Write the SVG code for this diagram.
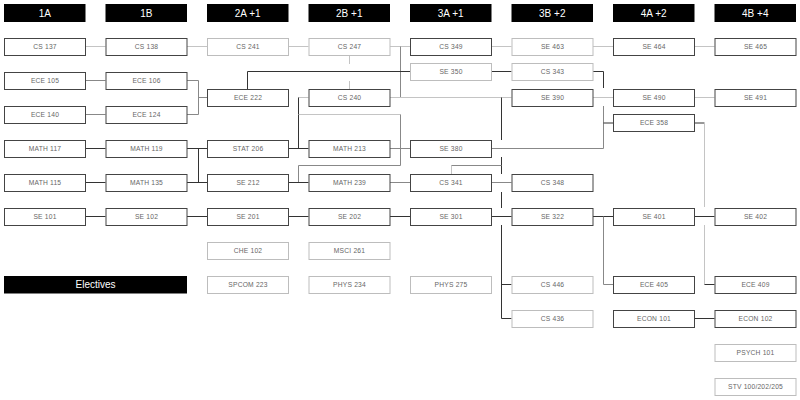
<svg xmlns="http://www.w3.org/2000/svg" width="800" height="400" viewBox="0 0 800 400">
<style>
  .hd rect { fill: #000; }
  .hd text { fill: #fff; font: 10px "Liberation Sans", Arial, sans-serif; text-anchor: middle; }
  .n rect { fill: #fff; stroke: #444; stroke-width: 1; }
  .n.l rect { stroke: #bdbdbd; }
  .n text { fill: #666; font: 6.7px "Liberation Sans", Arial, sans-serif; text-anchor: middle; letter-spacing: 0.2px; }
  .c path { fill: none; stroke-width: 1; }
  .lt { stroke: #c4c4c4; }
  .md { stroke: #888; }
  .dk { stroke: #333; }
</style>
<rect width="800" height="400" fill="#fff"/>

<!-- term headers -->
<g id="headers" class="hd">
  <rect x="4" y="4" width="81.5" height="18"/><text x="44.75" y="16.6">1A</text>
  <rect x="105.5" y="4" width="81.5" height="18"/><text x="146.25" y="16.6">1B</text>
  <rect x="207" y="4" width="81.5" height="18"/><text x="247.75" y="16.6">2A +1</text>
  <rect x="308.5" y="4" width="81.5" height="18"/><text x="349.25" y="16.6">2B +1</text>
  <rect x="410" y="4" width="81.5" height="18"/><text x="450.75" y="16.6">3A +1</text>
  <rect x="511.5" y="4" width="81.5" height="18"/><text x="552.25" y="16.6">3B +2</text>
  <rect x="613" y="4" width="81.5" height="18"/><text x="653.75" y="16.6">4A +2</text>
  <rect x="714.5" y="4" width="81.5" height="18"/><text x="755.25" y="16.6">4B +4</text>
</g>

<!-- prerequisite connectors -->
<g id="connectors" class="c">
  <!-- CS stream, top row -->
  <path class="lt" d="M85.5 46.5H105.5M187 46.5H207M288.5 46.5H308.5M390 46.5H410M491.5 46.5H511.5M593 46.5H613M694.5 46.5H714.5"/>
  <path class="md" d="M400.5 46.5V97.5"/>
  <path class="lt" d="M349.5 55.5V64M349.5 81V89"/>
  <!-- ECE 222 -> SE 350 -->
  <path class="dk" d="M247.5 89V71.5H410"/>
  <!-- ECE 1xx -->
  <path class="md" d="M85.5 80.5H105.5M85.5 114.5H105.5M187 80.5H198.5V114.5H187M198.5 97.5H207"/>
  <!-- CS 240 -->
  <path class="lt" d="M390 97.5H511.5M298.5 97.5H308.5"/>
  <path class="dk" d="M298.5 97.5V148.5"/>
  <path class="lt" d="M298.5 114.5H400.5"/>
  <path class="md" d="M400.5 114.5V165.5H298.5V182.5"/>
  <!-- MATH -->
  <path class="dk" d="M85.5 148.5H105.5M85.5 182.5H105.5M187 148.5H207M187 182.5H207M198.5 148.5V182.5M288.5 148.5H308.5M288.5 182.5H308.5"/>
  <path class="md" d="M390 148.5H410M390 182.5H410"/>
  <!-- SE seminar chain -->
  <path class="dk" d="M85.5 216.5H105.5M187 216.5H207M288.5 216.5H308.5M390 216.5H410M491.5 216.5H511.5M593 216.5H613M694.5 216.5H714.5"/>
  <!-- SE 350 / CS 343 / SE 380 -> ECE 358 -->
  <path class="dk" d="M491.5 71.5H511.5M593 71.5H603.5V88"/>
  <path class="md" d="M603.5 106V148.5H491.5"/>
  <path class="dk" d="M603.5 123H613"/>
  <path class="lt" d="M593 97.5H613M694.5 97.5H714.5"/>
  <!-- ECE 358 -> ECE 409 -->
  <path class="dk" d="M694.5 123H704.5"/>
  <path class="lt" d="M704.5 123V207M704.5 225V284.5"/>
  <path class="dk" d="M704.5 284.5H714.5"/>
  <!-- trunk to CS 4xx -->
  <path class="dk" d="M501.5 97.5V140M501.5 157V174M501.5 192V208M501.5 225V318.5H511.5M501.5 284.5H511.5"/>
  <path class="lt" d="M451.5 174V165.5"/>
  <path class="md" d="M451.5 165.5H501.5M491.5 182.5H511.5"/>
  <!-- SE 322 -> ECE 405 -->
  <path class="md" d="M603.5 216.5V284.5H613"/>
  <path class="dk" d="M694.5 318.5H714.5"/>
</g>

<!-- courses -->
<g id="cs137" class="n"><rect x="4.5" y="38.5" width="81" height="17"/><text x="45" y="49.4">CS 137</text></g>
<g id="cs138" class="n"><rect x="106" y="38.5" width="81" height="17"/><text x="146.5" y="49.4">CS 138</text></g>
<g id="cs241" class="n l"><rect x="207.5" y="38.5" width="81" height="17"/><text x="248" y="49.4">CS 241</text></g>
<g id="cs247" class="n l"><rect x="309" y="38.5" width="81" height="17"/><text x="349.5" y="49.4">CS 247</text></g>
<g id="cs349" class="n"><rect x="410.5" y="38.5" width="81" height="17"/><text x="451" y="49.4">CS 349</text></g>
<g id="se463" class="n l"><rect x="512" y="38.5" width="81" height="17"/><text x="552.5" y="49.4">SE 463</text></g>
<g id="se464" class="n"><rect x="613.5" y="38.5" width="81" height="17"/><text x="654" y="49.4">SE 464</text></g>
<g id="se465" class="n"><rect x="715" y="38.5" width="81" height="17"/><text x="755.5" y="49.4">SE 465</text></g>

<g id="se350" class="n l"><rect x="410.5" y="63.5" width="81" height="17"/><text x="451" y="74.4">SE 350</text></g>
<g id="cs343" class="n l"><rect x="512" y="63.5" width="81" height="17"/><text x="552.5" y="74.4">CS 343</text></g>

<g id="ece105" class="n"><rect x="4.5" y="72.5" width="81" height="17"/><text x="45" y="83.4">ECE 105</text></g>
<g id="ece106" class="n"><rect x="106" y="72.5" width="81" height="17"/><text x="146.5" y="83.4">ECE 106</text></g>

<g id="ece222" class="n"><rect x="207.5" y="89.5" width="81" height="17"/><text x="248" y="100.4">ECE 222</text></g>
<g id="cs240" class="n"><rect x="309" y="89.5" width="81" height="17"/><text x="349.5" y="100.4">CS 240</text></g>
<g id="se390" class="n"><rect x="512" y="89.5" width="81" height="17"/><text x="552.5" y="100.4">SE 390</text></g>
<g id="se490" class="n"><rect x="613.5" y="89.5" width="81" height="17"/><text x="654" y="100.4">SE 490</text></g>
<g id="se491" class="n"><rect x="715" y="89.5" width="81" height="17"/><text x="755.5" y="100.4">SE 491</text></g>

<g id="ece140" class="n"><rect x="4.5" y="106.5" width="81" height="17"/><text x="45" y="117.4">ECE 140</text></g>
<g id="ece124" class="n"><rect x="106" y="106.5" width="81" height="17"/><text x="146.5" y="117.4">ECE 124</text></g>
<g id="ece358" class="n"><rect x="613.5" y="114.5" width="81" height="17"/><text x="654" y="125.4">ECE 358</text></g>

<g id="math117" class="n"><rect x="4.5" y="140.5" width="81" height="17"/><text x="45" y="151.4">MATH 117</text></g>
<g id="math119" class="n"><rect x="106" y="140.5" width="81" height="17"/><text x="146.5" y="151.4">MATH 119</text></g>
<g id="stat206" class="n"><rect x="207.5" y="140.5" width="81" height="17"/><text x="248" y="151.4">STAT 206</text></g>
<g id="math213" class="n"><rect x="309" y="140.5" width="81" height="17"/><text x="349.5" y="151.4">MATH 213</text></g>
<g id="se380" class="n"><rect x="410.5" y="140.5" width="81" height="17"/><text x="451" y="151.4">SE 380</text></g>

<g id="math115" class="n"><rect x="4.5" y="174.5" width="81" height="17"/><text x="45" y="185.4">MATH 115</text></g>
<g id="math135" class="n"><rect x="106" y="174.5" width="81" height="17"/><text x="146.5" y="185.4">MATH 135</text></g>
<g id="se212" class="n"><rect x="207.5" y="174.5" width="81" height="17"/><text x="248" y="185.4">SE 212</text></g>
<g id="math239" class="n"><rect x="309" y="174.5" width="81" height="17"/><text x="349.5" y="185.4">MATH 239</text></g>
<g id="cs341" class="n"><rect x="410.5" y="174.5" width="81" height="17"/><text x="451" y="185.4">CS 341</text></g>
<g id="cs348" class="n"><rect x="512" y="174.5" width="81" height="17"/><text x="552.5" y="185.4">CS 348</text></g>

<g id="se101" class="n"><rect x="4.5" y="208.5" width="81" height="17"/><text x="45" y="219.4">SE 101</text></g>
<g id="se102" class="n"><rect x="106" y="208.5" width="81" height="17"/><text x="146.5" y="219.4">SE 102</text></g>
<g id="se201" class="n"><rect x="207.5" y="208.5" width="81" height="17"/><text x="248" y="219.4">SE 201</text></g>
<g id="se202" class="n"><rect x="309" y="208.5" width="81" height="17"/><text x="349.5" y="219.4">SE 202</text></g>
<g id="se301" class="n"><rect x="410.5" y="208.5" width="81" height="17"/><text x="451" y="219.4">SE 301</text></g>
<g id="se322" class="n"><rect x="512" y="208.5" width="81" height="17"/><text x="552.5" y="219.4">SE 322</text></g>
<g id="se401" class="n"><rect x="613.5" y="208.5" width="81" height="17"/><text x="654" y="219.4">SE 401</text></g>
<g id="se402" class="n"><rect x="715" y="208.5" width="81" height="17"/><text x="755.5" y="219.4">SE 402</text></g>

<g id="che102" class="n l"><rect x="207.5" y="242.5" width="81" height="17"/><text x="248" y="253.4">CHE 102</text></g>
<g id="msci261" class="n l"><rect x="309" y="242.5" width="81" height="17"/><text x="349.5" y="253.4">MSCI 261</text></g>

<g id="electives" class="hd"><rect x="4" y="276" width="183" height="17.5"/><text x="95.5" y="288.4">Electives</text></g>
<g id="spcom223" class="n l"><rect x="207.5" y="276.5" width="81" height="17"/><text x="248" y="287.4">SPCOM 223</text></g>
<g id="phys234" class="n l"><rect x="309" y="276.5" width="81" height="17"/><text x="349.5" y="287.4">PHYS 234</text></g>
<g id="phys275" class="n l"><rect x="410.5" y="276.5" width="81" height="17"/><text x="451" y="287.4">PHYS 275</text></g>
<g id="cs446" class="n l"><rect x="512" y="276.5" width="81" height="17"/><text x="552.5" y="287.4">CS 446</text></g>
<g id="ece405" class="n"><rect x="613.5" y="276.5" width="81" height="17"/><text x="654" y="287.4">ECE 405</text></g>
<g id="ece409" class="n"><rect x="715" y="276.5" width="81" height="17"/><text x="755.5" y="287.4">ECE 409</text></g>

<g id="cs436" class="n l"><rect x="512" y="310.5" width="81" height="17"/><text x="552.5" y="321.4">CS 436</text></g>
<g id="econ101" class="n"><rect x="613.5" y="310.5" width="81" height="17"/><text x="654" y="321.4">ECON 101</text></g>
<g id="econ102" class="n"><rect x="715" y="310.5" width="81" height="17"/><text x="755.5" y="321.4">ECON 102</text></g>

<g id="psych101" class="n l"><rect x="715" y="344.5" width="81" height="17"/><text x="755.5" y="355.4">PSYCH 101</text></g>
<g id="stv" class="n l"><rect x="715" y="378.5" width="81" height="17"/><text x="755.5" y="389.4">STV 100/202/205</text></g>
</svg>
